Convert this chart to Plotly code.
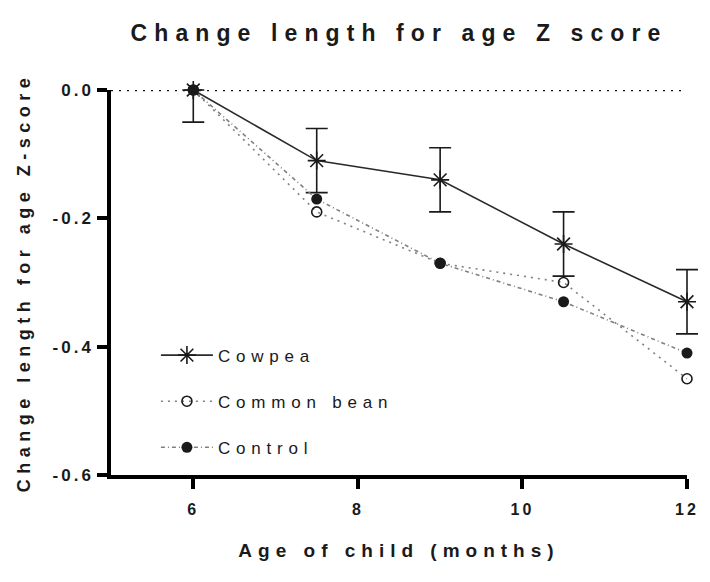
import plotly.graph_objects as go

ages = [6, 7.5, 9, 10.5, 12]
cowpea = [0.0, -0.11, -0.14, -0.24, -0.33]
cowpea_err = [0.05, 0.05, 0.05, 0.05, 0.05]
common_bean = [0.0, -0.19, -0.27, -0.30, -0.45]
control = [0.0, -0.17, -0.27, -0.33, -0.41]

x_ticks = [6, 8, 10, 12]
y_ticks = [0.0, -0.2, -0.4, -0.6]
y_tick_text = ["0.0", "-0.2", "-0.4", "-0.6"]
y_range = [-0.6, 0.0]

FONT = "Liberation Sans, Arial, sans-serif"
INK = "#1a1a1a"

# upper whiskers are cut at the top of the axis, as in the original
err_plus = [min(e, y_range[1] - v) for v, e in zip(cowpea, cowpea_err)]

fig = go.Figure()

fig.add_trace(go.Scatter(
    x=ages, y=cowpea, name="Cowpea", mode="lines+markers",
    legendgroup="a", legendrank=1,
    line=dict(color="#2a2a2a", width=1.6),
    marker=dict(symbol="asterisk-open", size=15, color=INK, line=dict(width=1.6, color=INK)),
    error_y=dict(type="data", symmetric=False, array=err_plus, arrayminus=cowpea_err,
                 visible=True, color=INK, thickness=1.6, width=11),
    cliponaxis=False,
))
fig.add_trace(go.Scatter(
    x=ages, y=common_bean, name="Common bean", mode="lines+markers",
    legendgroup="b", legendrank=2,
    line=dict(color="#808080", width=1.6, dash="2px,5px"),
    marker=dict(symbol="circle-open", size=10, color=INK, line=dict(width=1.6, color=INK)),
    cliponaxis=False,
))
fig.add_trace(go.Scatter(
    x=ages, y=control, name="Control", mode="lines+markers",
    legendgroup="c", legendrank=3,
    line=dict(color="#808080", width=1.6, dash="4px,3px,1px,3px"),
    marker=dict(symbol="circle", size=11, color=INK),
    cliponaxis=False,
))

fig.add_shape(type="line", xref="x", yref="y", x0=5, x1=12, y0=0, y1=0,
              line=dict(color="#111111", width=2.5, dash="2px,6px"), layer="below")

fig.update_layout(
    width=710, height=582,
    paper_bgcolor="white", plot_bgcolor="white",
    margin=dict(l=111, r=23, t=90, b=107),
    font=dict(family=FONT, color=INK),
    title=dict(text="<b>Change length for age Z score</b>", x=0.562, xanchor="center",
               y=0.943, yanchor="middle", font=dict(size=23, color=INK)),
    showlegend=True,
    legend=dict(x=0.078, y=0.357, xanchor="left", yanchor="top",
                bgcolor="rgba(0,0,0,0)", font=dict(size=17, color=INK),
                tracegroupgap=21, traceorder="grouped", itemwidth=52),
    xaxis=dict(
        range=[5, 12], tickvals=x_ticks, ticktext=[str(v) for v in x_ticks],
        showgrid=False, zeroline=False, showline=True, linecolor="black", linewidth=3.5,
        ticks="outside", ticklen=10, tickwidth=3.5, tickcolor="black",
        tickfont=dict(size=16, color=INK, weight="bold"), ticklabelstandoff=7,
        title=dict(text="<b>Age of child (months)</b>", font=dict(size=19, color=INK), standoff=28),
    ),
    yaxis=dict(
        range=y_range, tickvals=y_ticks, ticktext=y_tick_text,
        showgrid=False, zeroline=False, showline=True, linecolor="black", linewidth=3.5,
        ticks="outside", ticklen=10, tickwidth=3.5, tickcolor="black",
        tickfont=dict(size=17, color=INK, weight="bold"), ticklabelstandoff=0,
        title=dict(text="<b>Change length for age Z-score</b>", font=dict(size=18, color=INK), standoff=30),
    ),
)

css = """
document.body.style.margin = '0';
var st = document.createElement('style');
st.textContent = 'body{margin:0;} .gtitle{letter-spacing:7.1px;} .xtitle{letter-spacing:6px;} .ytitle{letter-spacing:5.5px;} .legendtext{letter-spacing:5.8px;} .xtick text, .ytick text{letter-spacing:3px;} .legend .scrollbox, .legend, .cartesianlayer .plot, .scatterlayer, .scatterlayer *{clip-path:none !important;}';
document.head.appendChild(st);
"""

fig.write_html("out.html", post_script=css, config={"displayModeBar": False})
